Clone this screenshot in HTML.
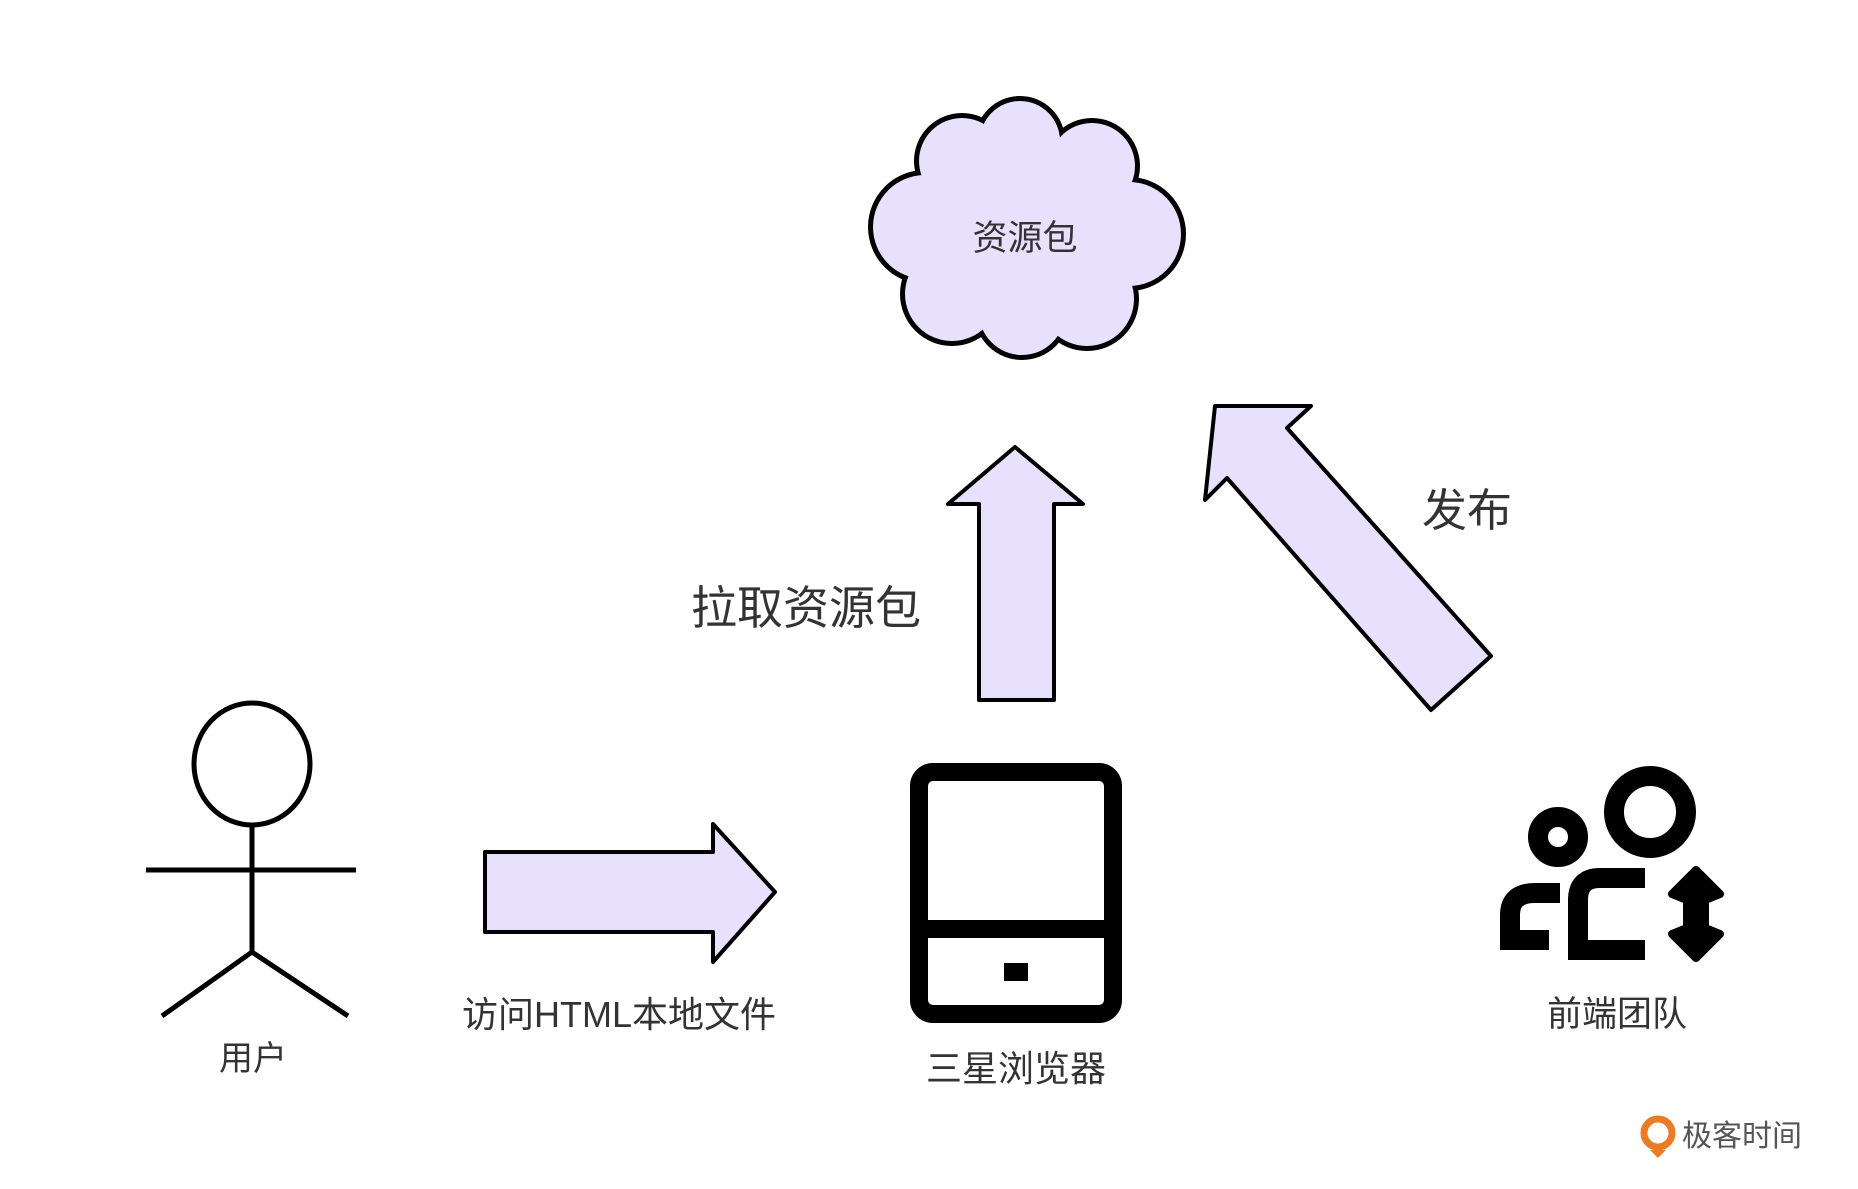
<!DOCTYPE html>
<html><head><meta charset="utf-8"><style>
body{margin:0;background:#fff;}
svg{display:block}
text{font-family:"Liberation Sans","Noto Sans CJK SC",sans-serif;fill:#333}
</style></head><body>
<svg width="1858" height="1189" viewBox="0 0 1858 1189" xmlns="http://www.w3.org/2000/svg">
<g transform="translate(-13,-1)">
<g stroke="#000" stroke-width="10" fill="#000">
<circle cx="1033" cy="142" r="40"/><circle cx="1105" cy="167" r="43"/><circle cx="1142" cy="235" r="52"/><circle cx="1100" cy="300" r="47"/><circle cx="1035" cy="313" r="43"/><circle cx="965" cy="295" r="47"/><circle cx="938" cy="228" r="52"/><circle cx="975" cy="162" r="43"/><circle cx="1040" cy="230" r="90"/>
</g>
<g fill="#e8e1fd">
<circle cx="1033" cy="142" r="40"/><circle cx="1105" cy="167" r="43"/><circle cx="1142" cy="235" r="52"/><circle cx="1100" cy="300" r="47"/><circle cx="1035" cy="313" r="43"/><circle cx="965" cy="295" r="47"/><circle cx="938" cy="228" r="52"/><circle cx="975" cy="162" r="43"/><circle cx="1040" cy="230" r="90"/>
</g>
</g>
<text x="1025" y="250" font-size="35" text-anchor="middle">资源包</text>
<polygon points="1015,447 1083,504 1054,504 1054,700 979,700 979,504 948,504" fill="#e8e1fd" stroke="#000" stroke-width="4" stroke-linejoin="round"/>
<g transform="translate(-15,-6)">
<polygon points="1230,412 1326,412 1302,434 1506,662 1446,716 1242,484 1220,506" fill="#e8e1fd" stroke="#000" stroke-width="4" stroke-linejoin="round"/>
</g>
<text x="806" y="624" font-size="46" text-anchor="middle">拉取资源包</text>
<text x="1467" y="526" font-size="45" text-anchor="middle">发布</text>
<polygon points="485,852 713,852 713,824 775,892 713,962 713,932 485,932" fill="#e8e1fd" stroke="#000" stroke-width="4" stroke-linejoin="round"/>
<text x="619" y="1027" font-size="36" text-anchor="middle">访问HTML本地文件</text>
<g stroke="#000" stroke-width="5" fill="none" transform="translate(-4,-10)">
<ellipse cx="256" cy="774" rx="58" ry="61"/>
<line x1="150" y1="880" x2="360" y2="880"/>
<line x1="256" y1="835" x2="256" y2="962"/>
<line x1="256" y1="962" x2="166" y2="1026"/>
<line x1="256" y1="962" x2="352" y2="1026"/>
</g>
<text x="253" y="1070" font-size="34" text-anchor="middle">用户</text>
<rect x="919" y="772" width="194" height="242" rx="14" fill="none" stroke="#000" stroke-width="18"/>
<rect x="919" y="920" width="194" height="18" fill="#000"/>
<rect x="1004" y="963" width="24" height="18" fill="#000"/>
<text x="1016" y="1081" font-size="36" text-anchor="middle">三星浏览器</text>
<g fill="none" stroke="#000" stroke-width="20">
<circle cx="1650" cy="812" r="36"/>
<circle cx="1558" cy="837" r="20"/>
</g>
<path d="M1645,878 L1600,878 Q1578,878 1578,900 L1578,950 L1645,950" fill="none" stroke="#000" stroke-width="20"/>
<path d="M1560,893 L1535,893 Q1510,893 1510,915 L1510,940 L1549,940" fill="none" stroke="#000" stroke-width="20"/>
<path d="M1696,870 L1720,894 L1705,900 L1705,928 L1720,934 L1696,958 L1672,934 L1687,928 L1687,900 L1672,894 Z" fill="#000" stroke="#000" stroke-width="8" stroke-linejoin="round"/>
<text x="1617" y="1026" font-size="35" text-anchor="middle">前端团队</text>
<circle cx="1658" cy="1133" r="14" fill="none" stroke="#ee7a22" stroke-width="7"/>
<path d="M1650,1150 L1658,1158 L1666,1150" fill="#ee7a22"/>
<text x="1682" y="1146" font-size="30" style="fill:#555">极客时间</text>
</svg>
</body></html>
